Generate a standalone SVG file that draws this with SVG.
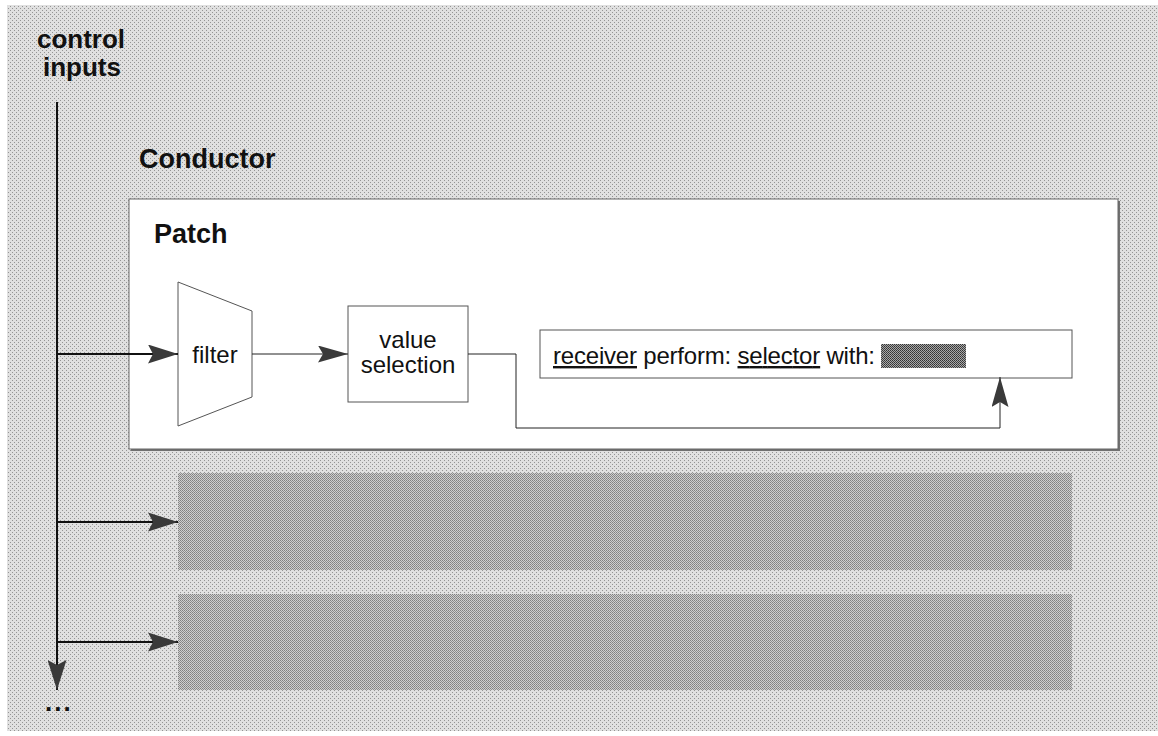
<svg xmlns="http://www.w3.org/2000/svg" width="1158" height="736" viewBox="0 0 1158 736">
<defs>
<pattern id="bgdots" width="4" height="4" patternUnits="userSpaceOnUse">
<rect width="4" height="4" fill="#e0e0e0"/>
<rect x="0" y="0" width="1" height="1" fill="#949494"/>
<rect x="2" y="2" width="1" height="1" fill="#949494"/>
</pattern>
<pattern id="banddots" width="2" height="2" patternUnits="userSpaceOnUse">
<rect width="2" height="2" fill="#cecece"/>
<rect x="0" y="0" width="1" height="1" fill="#808080"/>
<rect x="1" y="1" width="1" height="1" fill="#8e8e8e"/>
</pattern>
<pattern id="slotdots" width="2" height="2" patternUnits="userSpaceOnUse">
<rect width="2" height="2" fill="#a8a8a8"/>
<rect x="0" y="0" width="1" height="1" fill="#333"/>
<rect x="1" y="1" width="1" height="1" fill="#444"/>
</pattern>
<marker id="arr" viewBox="0 0 30 19" refX="30" refY="9.5" markerWidth="30" markerHeight="19" markerUnits="userSpaceOnUse" orient="auto">
<path d="M0,0 L30,9.5 L0,19 L5,9.5 Z" fill="#3a3a3a"/>
</marker>
<marker id="arrs" viewBox="0 0 30 17" refX="30" refY="8.5" markerWidth="30" markerHeight="17" markerUnits="userSpaceOnUse" orient="auto">
<path d="M0,0 L30,8.5 L0,17 L5,8.5 Z" fill="#3a3a3a"/>
</marker>
</defs>
<style>
text { font-family: "Liberation Sans", Arial, sans-serif; fill: #111; }
.bold { font-weight: bold; font-size: 27px; }
.title { font-weight: bold; font-size: 26px; }
.lbl { font-size: 24px; }
.wire { fill: none; stroke: #222; stroke-width: 1; }
.trunk { fill: none; stroke: #111; stroke-width: 2; }
.box { fill: #fff; stroke: #555; stroke-width: 1; }
</style>

<rect x="0" y="0" width="1158" height="736" fill="#fff"/>
<rect x="7" y="5" width="1151" height="726" fill="url(#bgdots)"/>

<g id="title">
<text class="title" x="81" y="48" text-anchor="middle">control</text>
<text class="title" x="82" y="76" text-anchor="middle">inputs</text>
</g>

<g id="conductor-label">
<text class="bold" x="139" y="168">Conductor</text>
</g>

<g id="patch">
<rect x="131" y="201" width="989" height="250" fill="#707070"/>
<rect x="129" y="199" width="989" height="250" fill="#fff" stroke="#666" stroke-width="1"/>
<text class="bold" x="154" y="243">Patch</text>
</g>

<g id="filter">
<polygon points="178,282 252,311 252,397 178,426" class="box"/>
<text class="lbl" x="215" y="363" text-anchor="middle">filter</text>
</g>

<g id="value-selection">
<rect x="348" y="306" width="120" height="96" class="box"/>
<text class="lbl" x="408" y="348" text-anchor="middle">value</text>
<text class="lbl" x="408" y="373" text-anchor="middle">selection</text>
</g>

<g id="perform">
<rect x="540" y="330" width="532" height="48" class="box"/>
<text class="lbl" x="553" y="364" textLength="322" lengthAdjust="spacing"><tspan text-decoration="underline">receiver</tspan> perform: <tspan text-decoration="underline">selector</tspan> with:</text>
<rect x="881" y="344" width="85" height="24" fill="url(#slotdots)"/>
</g>

<g id="band1">
<rect x="178" y="473" width="894" height="97" fill="url(#banddots)"/>
</g>
<g id="band2">
<rect x="178" y="594" width="894" height="96" fill="url(#banddots)"/>
</g>

<g id="connectors">
<line x1="57" y1="102" x2="57" y2="690" class="trunk" marker-end="url(#arr)"/>
<line x1="57" y1="354" x2="178" y2="354" class="trunk" marker-end="url(#arr)"/>
<line x1="252" y1="354" x2="348" y2="354" class="wire" marker-end="url(#arrs)"/>
<polyline points="468,354 516,354 516,428 1000,428 1000,377" class="wire" marker-end="url(#arrs)"/>
<line x1="57" y1="522" x2="178" y2="522" class="trunk" marker-end="url(#arr)"/>
<line x1="57" y1="642" x2="178" y2="642" class="trunk" marker-end="url(#arr)"/>
</g>

<g id="ellipsis">
<text x="45" y="711" font-size="26" font-weight="bold" letter-spacing="2">...</text>
</g>
</svg>
